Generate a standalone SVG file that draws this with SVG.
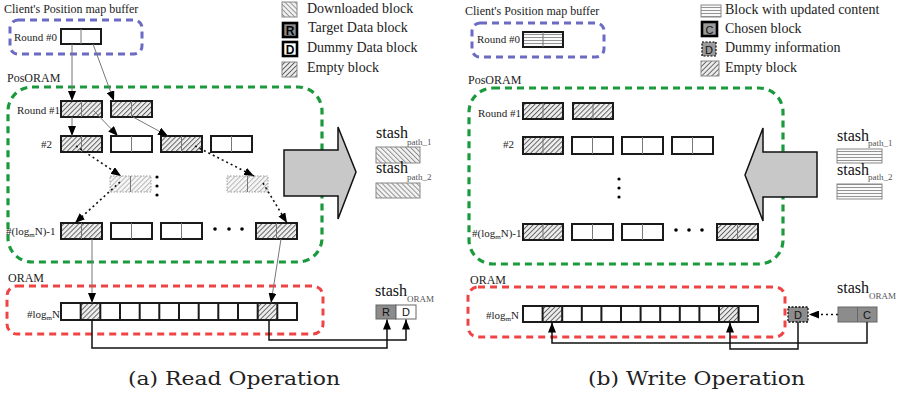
<svg xmlns="http://www.w3.org/2000/svg" width="902" height="393" viewBox="0 0 902 393">
  <style>
    .lbl { font-family: "Liberation Serif", "Times New Roman", serif; font-size: 11px; fill: #222; }
    .ttl { font-family: "Liberation Serif", "Times New Roman", serif; font-size: 12px; fill: #222; }
    .lg  { font-family: "Liberation Serif", "Times New Roman", serif; font-size: 14px; fill: #222; }
    .st  { font-family: "Liberation Serif", "Times New Roman", serif; font-size: 16px; fill: #111; }
    .sub { font-family: "Liberation Serif", "Times New Roman", serif; font-size: 9px; fill: #555; }
    .cap { font-family: "DejaVu Serif", "Liberation Serif", serif; font-size: 18px; fill: #222; }
    .ch  { font-family: "Liberation Sans", Arial, sans-serif; font-size: 11px; fill: #111; text-anchor: middle; }
    .chb { font-family: "Liberation Sans", Arial, sans-serif; font-size: 12px; font-weight: bold; fill: #000; text-anchor: middle; }
    .blk { fill: #fff; stroke: #1a1a1a; stroke-width: 2; }
    .hat { fill: url(#hEmpty); }
    .hor { fill: url(#hLines); }
    .fad { fill: url(#hFaded); stroke: #9a9a9a; stroke-width: 1; stroke-dasharray: 1.5 1.5; }
    .div { stroke: #777; stroke-width: 1; }
    .cdiv { stroke: #1a1a1a; stroke-width: 2; }
    .blue { fill: none; stroke: #6b6bc6; stroke-width: 3; stroke-dasharray: 7 5; }
    .green { fill: none; stroke: #1a9a3c; stroke-width: 3.2; stroke-dasharray: 7 5; }
    .red { fill: none; stroke: #f04444; stroke-width: 3; stroke-dasharray: 7 5; }
    .ptr { fill: none; stroke: #777; stroke-width: 1; marker-end: url(#ah); }
    .dot { fill: none; stroke: #111; stroke-width: 1.6; stroke-dasharray: 2 3; marker-end: url(#ah); }
    .wire { fill: none; stroke: #111; stroke-width: 1.5; marker-end: url(#ah); }
    .big { fill: #c8c8c8; stroke: #111; stroke-width: 1.5; stroke-linejoin: miter; }
    .sbox { stroke: #888; stroke-width: 1; }
  </style>
  <defs>
    <pattern id="hEmpty" width="3.5" height="3.5" patternUnits="userSpaceOnUse" patternTransform="rotate(45)">
      <rect width="3.5" height="3.5" fill="#eeeeee"/>
      <line x1="0.5" y1="0" x2="0.5" y2="3.5" stroke="#555" stroke-width="0.9"/>
    </pattern>
    <pattern id="hFaded" width="3.5" height="3.5" patternUnits="userSpaceOnUse" patternTransform="rotate(45)">
      <rect width="3.5" height="3.5" fill="#f6f6f6"/>
      <line x1="0.5" y1="0" x2="0.5" y2="3.5" stroke="#b0b0b0" stroke-width="0.9"/>
    </pattern>
    <pattern id="hDown" width="3.5" height="3.5" patternUnits="userSpaceOnUse" patternTransform="rotate(-45)">
      <rect width="3.5" height="3.5" fill="#f2f2f2"/>
      <line x1="0.5" y1="0" x2="0.5" y2="3.5" stroke="#888" stroke-width="0.9"/>
    </pattern>
    <pattern id="hLines" width="4" height="3" patternUnits="userSpaceOnUse">
      <rect width="4" height="3" fill="#fafafa"/>
      <line x1="0" y1="1.5" x2="4" y2="1.5" stroke="#888" stroke-width="0.9"/>
    </pattern>
    <marker id="ah" viewBox="0 0 10 8" refX="10" refY="4" markerWidth="10" markerHeight="8" markerUnits="userSpaceOnUse" orient="auto">
      <path d="M0,0 L10,4 L0,8 z" fill="#000"/>
    </marker>
  </defs>
  <rect width="902" height="393" fill="#fff"/>

  <!-- ===================== (a) Read operation ===================== -->
  <g id="read-containers">
    <text class="ttl" x="4" y="13">Client's Position map buffer</text>
    <rect class="blue" x="10" y="20" width="132" height="34" rx="8"/>
    <text class="ttl" x="7" y="82">PosORAM</text>
    <rect class="green" x="8" y="87" width="314" height="175" rx="24"/>
    <text class="ttl" x="8" y="282">ORAM</text>
    <rect class="red" x="7" y="286" width="316" height="48" rx="10"/>
  </g>

  <g id="read-legend">
    <rect x="282" y="2" width="15" height="15" fill="url(#hDown)" class="sbox"/>
    <text class="lg" x="307" y="13">Downloaded block</text>
    <rect x="283" y="23" width="14" height="14" fill="#8c8c8c" stroke="#000" stroke-width="2.6"/>
    <text class="chb" x="290" y="34.5">R</text>
    <text class="lg" x="308" y="32">Target Data block</text>
    <rect x="283" y="42" width="14" height="14" fill="#fff" stroke="#000" stroke-width="2.6"/>
    <text class="chb" x="290" y="53.5">D</text>
    <text class="lg" x="307" y="52">Dummy Data block</text>
    <rect x="282" y="62" width="15" height="15" fill="url(#hEmpty)" class="sbox"/>
    <text class="lg" x="307" y="72">Empty block</text>
  </g>

  <g id="read-round0">
    <text class="lbl" x="14" y="41">Round #0</text>
    <rect class="blk" x="61" y="29" width="40" height="15"/>
    <line class="div" x1="81" y1="29" x2="81" y2="44"/>
  </g>

  <g id="read-round1">
    <text class="lbl" x="17" y="114">Round #1</text>
    <rect class="blk hat" x="61" y="101" width="41" height="16"/>
    <line class="div" x1="81.5" y1="101" x2="81.5" y2="117"/>
    <rect class="blk hat" x="111" y="101" width="41" height="16"/>
    <line class="div" x1="131.5" y1="101" x2="131.5" y2="117"/>
  </g>

  <g id="read-level2">
    <text class="lbl" x="41" y="148">#2</text>
    <rect class="blk hat" x="61" y="136" width="41" height="16"/>
    <line class="div" x1="81.5" y1="136" x2="81.5" y2="152"/>
    <rect class="blk" x="111" y="136" width="41" height="16"/>
    <line class="div" x1="131.5" y1="136" x2="131.5" y2="152"/>
    <rect class="blk hat" x="161" y="136" width="41" height="16"/>
    <line class="div" x1="181.5" y1="136" x2="181.5" y2="152"/>
    <rect class="blk" x="211" y="136" width="41" height="16"/>
    <line class="div" x1="231.5" y1="136" x2="231.5" y2="152"/>
  </g>

  <g id="read-middle">
    <rect class="fad" x="110" y="176" width="41" height="16"/>
    <line class="div" x1="130.5" y1="176" x2="130.5" y2="192" stroke="#aaa"/>
    <rect class="fad" x="227" y="176" width="41" height="16"/>
    <line class="div" x1="247.5" y1="176" x2="247.5" y2="192" stroke="#aaa"/>
    <circle cx="157" cy="177" r="1.6" fill="#000"/>
    <circle cx="157" cy="186" r="1.6" fill="#000"/>
    <circle cx="157" cy="195" r="1.6" fill="#000"/>
  </g>

  <g id="read-leaf-parent">
    <text class="lbl" x="6" y="235">#(log<tspan font-size="7" dy="2">m</tspan><tspan dy="-2">N)-1</tspan></text>
    <rect class="blk hat" x="61" y="223" width="41" height="16"/>
    <line class="div" x1="81.5" y1="223" x2="81.5" y2="239"/>
    <rect class="blk" x="111" y="223" width="41" height="16"/>
    <line class="div" x1="131.5" y1="223" x2="131.5" y2="239"/>
    <rect class="blk" x="161" y="223" width="41" height="16"/>
    <line class="div" x1="181.5" y1="223" x2="181.5" y2="239"/>
    <circle cx="215" cy="229" r="1.8" fill="#000"/>
    <circle cx="229" cy="229" r="1.8" fill="#000"/>
    <circle cx="242" cy="229" r="1.8" fill="#000"/>
    <rect class="blk hat" x="256" y="223" width="41" height="16"/>
    <line class="div" x1="276.5" y1="223" x2="276.5" y2="239"/>
  </g>

  <g id="read-oram">
    <text class="lbl" x="27" y="318">#log<tspan font-size="7" dy="2">m</tspan><tspan dy="-2">N</tspan></text>
    <rect x="80.7" y="303" width="19.6" height="17" fill="url(#hEmpty)"/>
    <rect x="257.7" y="303" width="19.6" height="17" fill="url(#hEmpty)"/>
    <rect x="61" y="303" width="236" height="17" fill="none" stroke="#1a1a1a" stroke-width="2"/>
    <path class="cdiv" d="M80.7,303v17M100.3,303v17M120,303v17M139.7,303v17M159.3,303v17M179,303v17M198.7,303v17M218.3,303v17M238,303v17M257.7,303v17M277.3,303v17"/>
  </g>

  <g id="read-stash-paths">
    <text class="st" x="376" y="138">stash</text>
    <text class="sub" x="407" y="145">path_1</text>
    <rect x="376" y="147" width="44" height="16" fill="url(#hDown)" class="sbox"/>
    <text class="st" x="376" y="173">stash</text>
    <text class="sub" x="407" y="180">path_2</text>
    <rect x="376" y="183" width="44" height="15" fill="url(#hDown)" class="sbox"/>
  </g>

  <g id="read-stash-oram">
    <text class="st" x="375" y="296">stash</text>
    <text class="sub" x="407" y="302">ORAM</text>
    <rect x="376" y="305" width="20" height="14" fill="#8c8c8c" stroke="#666" stroke-width="1"/>
    <rect x="396" y="305" width="20" height="14" fill="#fff" stroke="#666" stroke-width="1"/>
    <text class="ch" x="386" y="316">R</text>
    <text class="ch" x="406" y="316">D</text>
  </g>

  <g id="read-transfer">
    <polygon class="big" points="284,150 338,150 338,127 356,172 338,219 338,196 284,196"/>
  </g>

  <g id="read-connectors">
    <path class="ptr" d="M72,44 L72,101"/>
    <path class="ptr" d="M93,44 L114,101"/>
    <path class="ptr" d="M72,117 L72,136"/>
    <path class="ptr" d="M94,111 L118,136"/>
    <path class="ptr" d="M133,117 L168,136"/>
    <path class="dot" d="M76,146 L121,176"/>
    <path class="dot" d="M195,146 L254,176"/>
    <path class="dot" d="M120,182 L75,223"/>
    <path class="dot" d="M263,183 L287,223"/>
    <path class="ptr" d="M92,239 L92,303"/>
    <path class="ptr" d="M281,239 L271,303"/>
    <path class="wire" d="M92,320 L92,348 L387,348 L387,319.5"/>
    <path class="wire" d="M269,320 L269,340 L406,340 L406,319.5"/>
  </g>

  <text class="cap" x="128" y="385" textLength="212" lengthAdjust="spacingAndGlyphs">(a) Read Operation</text>

  <!-- ===================== (b) Write operation ===================== -->
  <g id="write-containers">
    <text class="ttl" x="465" y="15">Client's Position map buffer</text>
    <rect class="blue" x="472" y="23" width="132" height="34" rx="8"/>
    <text class="ttl" x="468" y="84">PosORAM</text>
    <rect class="green" x="469" y="88" width="314" height="176" rx="24"/>
    <text class="ttl" x="470" y="284">ORAM</text>
    <rect class="red" x="468" y="287" width="317" height="50" rx="10"/>
  </g>

  <g id="write-legend">
    <rect x="701" y="5" width="20" height="12" fill="url(#hLines)" class="sbox"/>
    <text class="lg" x="725" y="14">Block with updated content</text>
    <rect x="702" y="22" width="15" height="14" fill="#9a9a9a" stroke="#000" stroke-width="2.6"/>
    <text class="ch" x="709.5" y="33.5" font-size="12">C</text>
    <text class="lg" x="725" y="33">Chosen block</text>
    <rect x="702" y="42" width="14" height="14" fill="#9a9a9a" stroke="#000" stroke-width="1.2" stroke-dasharray="2 1.5"/>
    <text class="ch" x="709" y="53.5" font-size="12">D</text>
    <text class="lg" x="725" y="52">Dummy information</text>
    <rect x="701" y="61" width="18" height="15" fill="url(#hEmpty)" class="sbox"/>
    <text class="lg" x="725" y="72">Empty block</text>
  </g>

  <g id="write-round0">
    <text class="lbl" x="477" y="43">Round #0</text>
    <rect class="blk hor" x="523" y="32" width="40" height="15"/>
    <line class="div" x1="543" y1="32" x2="543" y2="47"/>
  </g>

  <g id="write-round1">
    <text class="lbl" x="478" y="117">Round #1</text>
    <rect class="blk hat" x="523" y="103" width="40" height="16"/>
    <line class="div" x1="543" y1="103" x2="543" y2="119"/>
    <rect class="blk hat" x="573" y="103" width="40" height="16"/>
    <line class="div" x1="593" y1="103" x2="593" y2="119"/>
  </g>

  <g id="write-level2">
    <text class="lbl" x="503" y="148">#2</text>
    <rect class="blk hat" x="523" y="137" width="40" height="17"/>
    <line class="div" x1="543" y1="137" x2="543" y2="154"/>
    <rect class="blk" x="572" y="137" width="41" height="17"/>
    <line class="div" x1="592.5" y1="137" x2="592.5" y2="154"/>
    <rect class="blk" x="622" y="137" width="41" height="17"/>
    <line class="div" x1="642.5" y1="137" x2="642.5" y2="154"/>
    <rect class="blk" x="672" y="137" width="41" height="17"/>
    <line class="div" x1="692.5" y1="137" x2="692.5" y2="154"/>
  </g>

  <g id="write-middle">
    <circle cx="619" cy="179" r="1.6" fill="#000"/>
    <circle cx="619" cy="188" r="1.6" fill="#000"/>
    <circle cx="619" cy="197" r="1.6" fill="#000"/>
  </g>

  <g id="write-leaf-parent">
    <text class="lbl" x="472" y="237">#(log<tspan font-size="7" dy="2">m</tspan><tspan dy="-2">N)-1</tspan></text>
    <rect class="blk hat" x="523" y="224" width="40" height="16"/>
    <line class="div" x1="543" y1="224" x2="543" y2="240"/>
    <rect class="blk" x="572" y="224" width="41" height="16"/>
    <line class="div" x1="592.5" y1="224" x2="592.5" y2="240"/>
    <rect class="blk" x="622" y="224" width="41" height="16"/>
    <line class="div" x1="642.5" y1="224" x2="642.5" y2="240"/>
    <circle cx="676" cy="230" r="1.8" fill="#000"/>
    <circle cx="689" cy="230" r="1.8" fill="#000"/>
    <circle cx="702" cy="230" r="1.8" fill="#000"/>
    <rect class="blk hat" x="717" y="224" width="41" height="16"/>
    <line class="div" x1="737.5" y1="224" x2="737.5" y2="240"/>
  </g>

  <g id="write-oram">
    <text class="lbl" x="486" y="319">#log<tspan font-size="7" dy="2">m</tspan><tspan dy="-2">N</tspan></text>
    <rect x="542.6" y="306" width="19.6" height="16" fill="url(#hEmpty)"/>
    <rect x="719" y="306" width="19.6" height="16" fill="url(#hEmpty)"/>
    <rect x="523" y="306" width="235" height="16" fill="none" stroke="#1a1a1a" stroke-width="2"/>
    <path class="cdiv" d="M542.6,306v16M562.2,306v16M581.8,306v16M601.4,306v16M621,306v16M640.6,306v16M660.2,306v16M679.8,306v16M699.4,306v16M719,306v16M738.6,306v16"/>
  </g>

  <g id="write-dummy">
    <rect x="788" y="307" width="20" height="15" fill="#8c8c8c" stroke="#111" stroke-width="1.3" stroke-dasharray="2 1.5"/>
    <text class="ch" x="798" y="318.5">D</text>
  </g>

  <g id="write-stash-paths">
    <text class="st" x="837" y="141">stash</text>
    <text class="sub" x="868" y="146">path_1</text>
    <rect x="837" y="149" width="45" height="14" fill="url(#hLines)" class="sbox"/>
    <text class="st" x="837" y="175">stash</text>
    <text class="sub" x="868" y="180">path_2</text>
    <rect x="837" y="184" width="45" height="15" fill="url(#hLines)" class="sbox"/>
  </g>

  <g id="write-stash-oram">
    <text class="st" x="837" y="293">stash</text>
    <text class="sub" x="869" y="299">ORAM</text>
    <rect x="838" y="307" width="39" height="15" fill="#8c8c8c" stroke="#666" stroke-width="1"/>
    <line x1="857.5" y1="307" x2="857.5" y2="322" stroke="#666" stroke-width="1"/>
    <text class="ch" x="867" y="318.5">C</text>
  </g>

  <g id="write-transfer">
    <polygon class="big" points="817,152 763,152 763,128 745,175 763,221 763,197 817,197"/>
  </g>

  <g id="write-connectors">
    <path class="dot" d="M838,314.5 L809,314.5"/>
    <path class="wire" d="M798,322 L798,349 L730,349 L730,322.5"/>
    <path class="wire" d="M867,322 L867,343 L552,343 L552,322.5"/>
  </g>

  <text class="cap" x="588" y="385" textLength="217" lengthAdjust="spacingAndGlyphs">(b) Write Operation</text>
</svg>
